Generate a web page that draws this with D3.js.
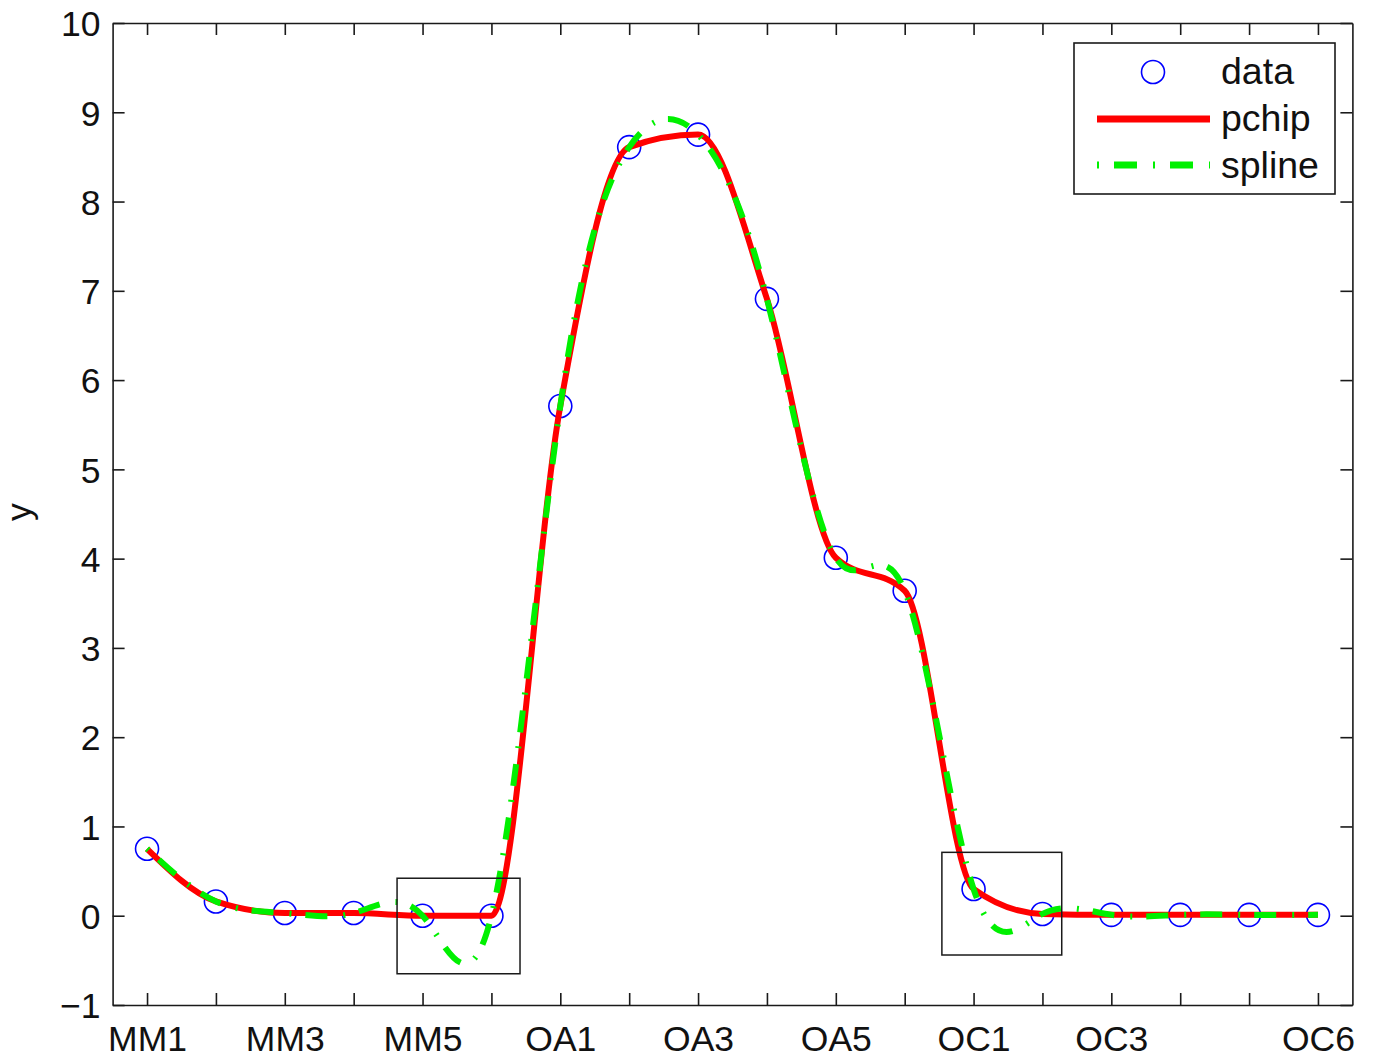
<!DOCTYPE html>
<html>
<head>
<meta charset="utf-8">
<script src="https://cdn.jsdelivr.net/npm/d3@7/dist/d3.min.js"></script>
<style>
  html, body { margin: 0; padding: 0; background: #fff; }
  svg text { font-family: "Liberation Sans", Arial, Helvetica, sans-serif; fill: #111; }
</style>
</head>
<body>
<svg id="chart" width="1376" height="1063"></svg>
<script>
// Samples along the x axis (one per category)
const categories = ["MM1","MM2","MM3","MM4","MM5","MM6",
                    "OA1","OA2","OA3","OA4","OA5","OA6",
                    "OC1","OC2","OC3","OC4","OC5","OC6"];
const yValues = [0.75, 0.16, 0.03, 0.03, 0.0, 0.0,
                 5.71, 8.61, 8.75, 6.91, 4.01, 3.64,
                 0.30, 0.02, 0.01, 0.01, 0.01, 0.01];
// Which categories get a tick label
const labelledTicks = ["MM1","MM3","MM5","OA1","OA3","OA5","OC1","OC3","OC6"];
const yTicks = [-1,0,1,2,3,4,5,6,7,8,9,10];
// Highlight boxes (x from, x to, y from, y to) in data units
const boxX0 = [4.63, 12.54];
const boxX1 = [6.415, 14.28];
const boxY0 = [-0.65, -0.44];
const boxY1 = [0.42, 0.71];
const legendLabels = ["data", "pchip", "spline"];

const svg = d3.select("#chart");
const plotLeft = 112.6, plotRight = 1352.4, plotTop = 23, plotBottom = 1005;

const x = d3.scaleLinear().domain([0.5, 18.5]).range([plotLeft, plotRight]);
const y = d3.scaleLinear().domain([-1, 10]).range([plotBottom, plotTop]);
const idx = d3.range(1, categories.length + 1);
const pts = idx.map((i, k) => [x(i), y(yValues[k])]);

const axisColor = "#1a1a1a";
const green = "#00f000";
const tickLen = 12;

// clip for plotted curves
svg.append("defs").append("clipPath").attr("id", "plotClip")
  .append("rect").attr("x", plotLeft).attr("y", plotTop)
  .attr("width", plotRight - plotLeft).attr("height", plotBottom - plotTop);

// axes with inward ticks on all four sides
const xAxisB = d3.axisBottom(x).tickValues(idx).tickSizeInner(-tickLen).tickSizeOuter(0)
  .tickFormat(d => labelledTicks.includes(categories[d - 1]) ? categories[d - 1] : "");
const xAxisT = d3.axisTop(x).tickValues(idx).tickSizeInner(-tickLen).tickSizeOuter(0).tickFormat("");
const yAxisL = d3.axisLeft(y).tickValues(yTicks).tickSizeInner(-tickLen).tickSizeOuter(0)
  .tickFormat(d => d < 0 ? "\u2212" + Math.abs(d) : d);
const yAxisR = d3.axisRight(y).tickValues(yTicks).tickSizeInner(-tickLen).tickSizeOuter(0).tickFormat("");

function styleAxis(g) {
  g.select(".domain").attr("stroke", axisColor).attr("stroke-width", 1.6);
  g.selectAll(".tick line").attr("stroke", axisColor).attr("stroke-width", 1.6);
  g.selectAll(".tick text").attr("font-size", 35.5).attr("fill", "#111")
    .attr("font-family", "'Liberation Sans', Arial, Helvetica, sans-serif");
}

svg.append("g").attr("transform", `translate(0,${plotBottom})`).call(xAxisB).call(styleAxis)
  .selectAll(".tick text").attr("dy", null).attr("y", 46);
svg.append("g").attr("transform", `translate(0,${plotTop})`).call(xAxisT).call(styleAxis);
svg.append("g").attr("transform", `translate(${plotLeft},0)`).call(yAxisL).call(styleAxis)
  .selectAll(".tick text").attr("x", -12).attr("dy", "0.36em");
svg.append("g").attr("transform", `translate(${plotRight},0)`).call(yAxisR).call(styleAxis);

// y label
svg.append("text").attr("transform", "translate(31,512) rotate(-90)")
  .attr("text-anchor", "middle").attr("font-size", 35.5).text("y");

const plot = svg.append("g").attr("clip-path", "url(#plotClip)");

// data markers
plot.selectAll("circle.data").data(pts).enter().append("circle")
  .attr("class", "data").attr("cx", d => d[0]).attr("cy", d => d[1]).attr("r", 11.5)
  .attr("fill", "none").attr("stroke", "#0000ff").attr("stroke-width", 1.6);

// shape-preserving interpolant
plot.append("path").datum(pts)
  .attr("d", d3.line().curve(d3.curveMonotoneX))
  .attr("fill", "none").attr("stroke", "#ff0000").attr("stroke-width", 6);

// cubic spline interpolant
const splineDash = "2,14,22,16";
plot.append("path").datum(pts)
  .attr("d", d3.line().curve(d3.curveNatural))
  .attr("fill", "none").attr("stroke", green).attr("stroke-width", 6)
  .attr("stroke-dasharray", splineDash);

// highlight boxes
boxX0.forEach((bx, i) => {
  svg.append("rect")
    .attr("x", x(bx)).attr("y", y(boxY1[i]))
    .attr("width", x(boxX1[i]) - x(bx)).attr("height", y(boxY0[i]) - y(boxY1[i]))
    .attr("fill", "none").attr("stroke", axisColor).attr("stroke-width", 1.5);
});

// legend
const lg = svg.append("g");
lg.append("rect").attr("x", 1074).attr("y", 43).attr("width", 261).attr("height", 151)
  .attr("fill", "#fff").attr("stroke", axisColor).attr("stroke-width", 1.6);
lg.append("circle").attr("cx", 1153).attr("cy", 72).attr("r", 11.5)
  .attr("fill", "none").attr("stroke", "#0000ff").attr("stroke-width", 1.6);
lg.append("line").attr("x1", 1097).attr("x2", 1210).attr("y1", 119).attr("y2", 119)
  .attr("stroke", "#ff0000").attr("stroke-width", 7);
lg.append("line").attr("x1", 1097).attr("x2", 1210).attr("y1", 165).attr("y2", 165)
  .attr("stroke", green).attr("stroke-width", 7).attr("stroke-dasharray", "2,15,23,16");
legendLabels.forEach((t, i) => {
  lg.append("text").attr("x", 1221).attr("y", 84 + i * 47).attr("font-size", 37.5).text(t);
});
</script>
</body>
</html>
